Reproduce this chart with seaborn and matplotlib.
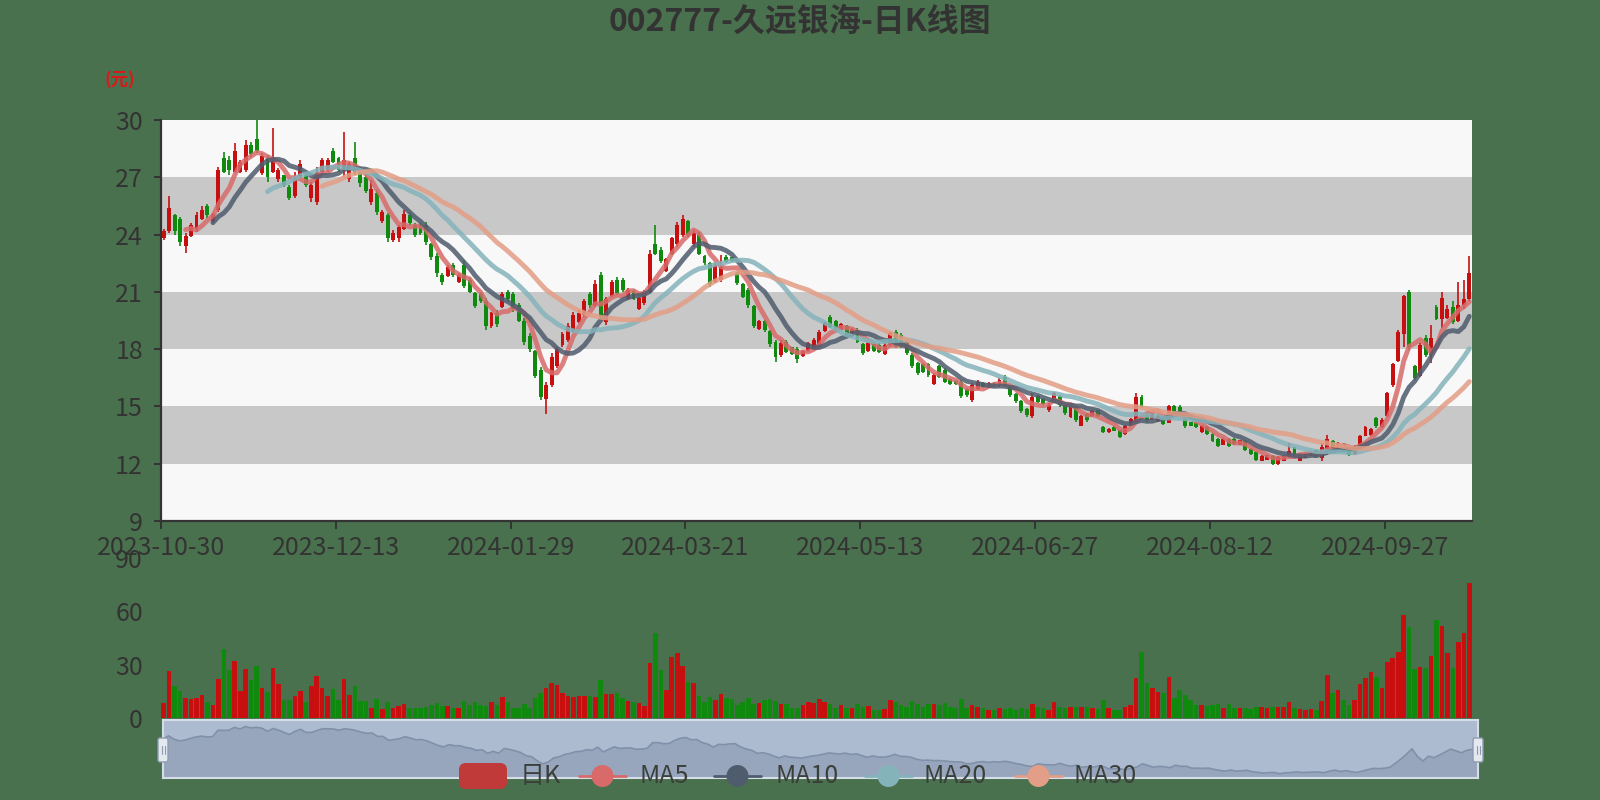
import numpy as np
import pandas as pd
import matplotlib
matplotlib.use("Agg")
import matplotlib.pyplot as plt
import seaborn as sns
from matplotlib.patches import FancyBboxPatch, Circle

# daily K data (240 trading days, 2023-10-30 .. 2024-10)
opens = [
    23.8, 24.2, 25.0, 24.8, 23.4, 23.9, 24.3, 24.8, 25.5, 24.7,
    25.3, 28.0, 27.9, 27.3, 27.3, 27.4, 28.7, 29.0, 27.2, 28.0,
    27.3, 26.9, 27.1, 26.5, 26.0, 27.0, 27.1, 25.9, 25.7, 27.3,
    27.4, 28.4, 28.0, 27.4, 26.9, 28.0, 27.4, 27.0, 25.7, 26.2,
    24.7, 25.0, 23.7, 23.8, 24.3, 25.0, 24.5, 24.4, 24.5, 23.5,
    22.9, 21.9, 21.85, 22.4, 21.5, 22.4, 21.6, 20.95, 20.9, 20.5,
    19.2, 19.9, 20.2, 21.0, 20.9, 20.3, 19.5, 18.7, 17.9, 16.9,
    15.4, 16.1, 17.1, 18.2, 18.5, 19.0, 19.4, 19.8, 20.9, 20.3,
    21.9, 19.4, 20.8, 21.6, 21.6, 20.65, 21.05, 20.1, 20.4, 21.0,
    23.5, 23.2, 22.1, 23.0, 23.5, 24.0, 24.7, 23.5, 24.0, 22.9,
    22.5, 21.5, 21.6, 22.85, 22.8, 22.0, 21.4, 21.1, 20.25, 19.05,
    19.45, 18.95, 18.4, 17.7, 18.4, 18.1, 18.0, 17.65, 17.9, 18.0,
    18.2, 18.95, 19.7, 19.45, 19.02, 19.2, 18.7, 19.0, 18.25, 17.9,
    18.25, 18.2, 17.75, 18.2, 18.9, 18.75, 18.4, 17.7, 17.3, 17.2,
    17.2, 16.2, 17.1, 16.9, 16.45, 16.35, 16.3, 15.9, 15.35, 15.9,
    16.25, 16.05, 16.25, 16.1, 16.55, 16.05, 15.65, 15.3, 14.85, 14.5,
    15.55, 15.4, 14.8, 15.2, 15.55, 15.1, 14.45, 14.95, 14.0, 14.6,
    14.5, 14.8, 13.92, 13.65, 13.9, 13.75, 13.55, 14.0, 14.2, 15.5,
    14.6, 14.32, 14.25, 14.45, 14.15, 15.0, 14.95, 14.65, 14.2, 14.15,
    13.65, 13.9, 13.55, 13.3, 13.0, 13.3, 13.3, 13.0, 13.2, 12.78,
    12.6, 12.15, 12.22, 12.42, 12.0, 12.15, 12.35, 12.85, 12.15, 12.3,
    12.4, 12.7, 12.3, 12.6, 13.2, 12.85, 13.0, 12.85, 12.5, 12.95,
    13.45, 13.5, 14.4, 13.9, 14.5, 16.1, 17.4, 18.8, 21.0, 17.1,
    16.6, 18.6, 17.7, 20.2, 19.6, 19.65, 20.2, 19.5, 20.3, 20.6,
]
closes = [
    24.2, 25.4, 24.2, 23.6, 23.9, 24.5, 25.0, 25.3, 25.0, 25.1,
    27.4, 27.3, 27.4, 28.4, 27.8, 28.7, 28.2, 28.4, 28.1, 27.0,
    28.0, 27.4, 26.6, 25.9, 27.0, 27.7, 26.6, 26.6, 27.3, 27.9,
    27.9, 27.8, 27.4, 27.9, 27.7, 27.3, 26.7, 26.3, 26.4, 25.2,
    25.2, 23.8, 24.1, 24.4, 25.1, 24.6, 24.0, 24.1, 23.6, 22.8,
    22.0, 21.5, 22.3, 21.9, 21.9, 21.3, 21.0, 20.25, 20.5, 19.2,
    19.9, 19.3, 20.9, 20.6, 20.1, 19.5, 18.4, 18.0, 16.6, 15.5,
    16.1, 17.6, 18.0, 18.8, 19.2, 19.8, 19.9, 20.5, 20.3, 21.4,
    19.7, 20.6, 21.5, 20.95, 21.1, 21.1, 20.65, 20.7, 21.0, 23.0,
    23.0, 22.6, 22.7, 23.8, 24.5, 24.8, 24.0, 24.1, 23.0, 22.5,
    21.4, 22.4, 22.3, 22.55, 22.6, 21.45, 20.75, 20.3, 19.2, 19.45,
    19.0, 18.25, 17.6, 18.3, 17.85, 17.75, 17.5, 17.9, 18.3, 18.5,
    18.9, 19.35, 19.15, 19.0, 19.3, 18.8, 19.05, 18.4, 17.8, 18.3,
    17.9, 17.85, 18.2, 18.85, 18.15, 18.1, 17.8, 17.1, 16.75, 16.8,
    16.65, 16.65, 16.55, 16.3, 16.2, 16.15, 15.55, 15.6, 16.1, 16.3,
    16.0, 16.25, 16.1, 16.4, 16.1, 15.6, 15.3, 14.75, 14.55, 15.5,
    15.25, 15.15, 15.1, 15.7, 15.05, 14.65, 15.0, 14.3, 14.5, 14.3,
    14.75, 14.5, 13.65, 13.82, 13.72, 13.4, 14.0, 14.35, 15.5, 14.95,
    14.3, 14.6, 14.5, 14.1, 15.0, 14.6, 14.65, 13.95, 13.98, 13.9,
    14.0, 13.55, 13.2, 12.95, 13.3, 12.95, 13.02, 13.22, 12.7, 12.5,
    12.2, 12.42, 12.44, 12.0, 12.35, 12.42, 12.65, 12.45, 12.5, 12.52,
    12.62, 12.35, 12.9, 13.3, 12.8, 13.1, 12.7, 12.45, 12.95, 13.45,
    13.9, 13.8, 13.95, 14.3, 15.7, 17.2, 18.9, 20.8, 18.1, 16.5,
    18.2, 17.7, 18.6, 19.6, 20.7, 20.1, 19.4, 20.3, 20.6, 22.0,
]
highs = [
    24.3, 26.0, 25.1, 24.9, 24.1, 24.6, 25.2, 25.5, 25.6, 25.15,
    27.56, 28.3, 28.1, 28.8, 27.9, 28.95, 28.87, 30.0, 28.25, 28.17,
    29.56, 27.47, 27.12, 26.6, 27.29, 27.91, 27.12, 26.77, 27.56, 27.99,
    28.0, 28.52, 28.08, 29.39, 27.82, 28.87, 27.56, 27.21, 26.86, 26.34,
    25.29, 25.11, 24.24, 24.5, 25.29, 25.2, 24.59, 24.6, 24.68, 23.54,
    23.02, 21.97, 22.41, 22.5, 21.97, 22.67, 21.71, 21.01, 21.0, 20.66,
    19.97, 20.05, 21.01, 21.1, 21.01, 20.4, 19.62, 18.83, 17.96, 17.09,
    16.3, 17.8, 18.13, 18.92, 19.35, 19.97, 20.05, 20.6, 21.01, 21.62,
    22.06, 20.75, 21.62, 21.8, 21.71, 21.19, 21.1, 20.75, 21.1, 23.19,
    24.5, 23.37, 22.76, 23.89, 24.68, 25.02, 24.76, 24.24, 24.15, 22.93,
    22.58, 22.5, 22.93, 22.93, 22.84, 22.06, 21.45, 21.19, 20.31, 19.53,
    19.53, 19.0, 18.48, 18.48, 18.48, 18.13, 18.13, 17.96, 18.39, 18.57,
    19.0, 19.44, 19.79, 19.53, 19.35, 19.27, 19.09, 19.09, 18.3, 18.39,
    18.3, 18.3, 18.3, 18.92, 19.0, 18.83, 18.48, 17.78, 17.35, 17.26,
    17.26, 16.73, 17.17, 17.0, 16.47, 16.38, 16.38, 15.95, 16.21, 16.38,
    16.3, 16.3, 16.3, 16.47, 16.65, 16.12, 15.69, 15.34, 14.9, 15.69,
    15.6, 15.43, 15.17, 15.78, 15.6, 15.17, 15.08, 14.99, 14.56, 14.64,
    14.82, 14.82, 13.95, 13.86, 13.95, 13.77, 14.04, 14.38, 15.69, 15.6,
    14.64, 14.64, 14.56, 14.47, 15.08, 15.08, 15.08, 14.73, 14.21, 14.21,
    14.04, 13.95, 13.6, 13.34, 13.34, 13.34, 13.34, 13.25, 13.25, 12.81,
    12.64, 12.46, 12.46, 12.46, 12.38, 12.46, 13.07, 12.9, 12.55, 12.55,
    12.64, 12.73, 13.07, 13.51, 13.25, 13.16, 13.07, 12.9, 12.99, 13.51,
    13.95, 13.86, 14.47, 14.38, 15.78, 17.26, 19.0, 20.84, 21.1, 17.17,
    18.3, 18.74, 19.27, 20.32, 21.0, 20.3, 20.5, 21.5, 21.6, 22.9,
]
lows = [
    23.7, 24.1, 24.0, 23.4, 23.05, 23.85, 24.15, 24.75, 24.85, 24.6,
    25.2, 27.2, 27.1, 27.2, 27.2, 27.3, 28.08, 28.25, 27.1, 26.77,
    27.2, 26.77, 26.51, 25.8, 25.9, 26.95, 26.51, 25.72, 25.55, 27.21,
    27.3, 27.73, 27.29, 27.03, 26.77, 27.12, 26.51, 26.16, 25.55, 25.03,
    24.59, 23.63, 23.63, 23.63, 24.24, 24.5, 23.89, 24.0, 23.46, 22.67,
    21.8, 21.36, 21.8, 21.8, 21.45, 21.19, 20.92, 20.14, 20.4, 19.0,
    19.09, 19.18, 20.14, 20.49, 19.97, 19.44, 18.22, 17.87, 16.47, 15.34,
    14.6, 16.04, 17.0, 18.13, 18.39, 18.92, 19.35, 19.7, 20.14, 20.23,
    19.53, 19.27, 20.75, 20.84, 21.0, 20.57, 20.57, 20.05, 20.31, 20.95,
    22.93, 22.5, 22.06, 22.93, 23.37, 23.89, 23.89, 23.37, 22.93, 22.41,
    21.27, 21.45, 21.53, 22.5, 22.58, 21.36, 20.66, 20.14, 19.09, 19.0,
    18.92, 18.13, 17.35, 17.61, 17.78, 17.69, 17.26, 17.61, 17.87, 17.96,
    18.13, 18.92, 19.09, 18.92, 19.0, 18.74, 18.65, 18.3, 17.69, 17.87,
    17.87, 17.78, 17.69, 18.13, 18.04, 18.04, 17.69, 17.0, 16.65, 16.73,
    16.56, 16.12, 16.47, 16.21, 16.12, 16.12, 15.43, 15.51, 15.25, 15.86,
    15.95, 16.04, 16.04, 16.04, 16.04, 15.51, 15.16, 14.64, 14.47, 14.38,
    15.17, 15.08, 14.73, 15.17, 14.99, 14.56, 14.38, 14.21, 13.95, 14.21,
    14.47, 14.47, 13.6, 13.6, 13.69, 13.34, 13.51, 13.95, 14.12, 14.9,
    14.21, 14.3, 14.21, 14.04, 14.12, 14.56, 14.56, 13.86, 13.95, 13.86,
    13.6, 13.51, 13.16, 12.9, 12.99, 12.9, 12.99, 12.99, 12.64, 12.46,
    12.12, 12.12, 12.2, 11.94, 11.94, 12.12, 12.29, 12.38, 12.12, 12.29,
    12.38, 12.29, 12.12, 12.46, 12.73, 12.81, 12.64, 12.38, 12.46, 12.9,
    13.43, 13.43, 13.86, 13.86, 14.47, 16.04, 17.35, 18.13, 17.96, 16.39,
    16.56, 17.61, 17.26, 19.53, 19.1, 19.6, 19.3, 19.4, 20.1, 20.5,
]
volumes = [
    8.6, 26.5, 18, 15.4, 11, 10.7, 11, 13, 9, 7.3,
    22, 38.6, 27, 32, 15.4, 27.4, 21.4, 29.3, 16.7, 14.8,
    28.3, 19, 10, 10, 12.4, 15.4, 9, 18, 23.6, 16.7,
    12.4, 16.3, 10, 22, 13, 18, 9.6, 9.6, 5.8, 10.5,
    4.9, 9, 5.4, 6.8, 7.7, 5.8, 5.8, 5.4, 6.4, 7.3,
    8.6, 6.8, 6.8, 5.4, 5.4, 9.6, 7.3, 9, 7.3, 6.8,
    9, 7.3, 11.6, 9, 5.4, 5.4, 7.9, 5.4, 11, 13.9,
    16.7, 19.5, 18.6, 14.3, 12.4, 12, 12.4, 12.4, 12.4, 12.0,
    21.4, 13.3, 13.3, 13.9, 11, 9.6, 9, 8.6, 6.8, 31,
    48, 27, 16, 34.5, 36.8, 29.5, 20.4, 19.5, 12.4, 9,
    12, 10, 13.5, 11, 10.7, 7.3, 9, 11, 7.7, 8.6,
    10, 10.5, 9.6, 7.7, 7.7, 5.4, 5.4, 7.3, 9.2, 8.6,
    10.7, 9.2, 7.9, 5.4, 7.3, 5.4, 5.4, 7.9, 6.4, 6.8,
    4.5, 4.5, 4.9, 10.1, 9.2, 7.3, 6.0, 9.6, 7.9, 6.0,
    7.9, 7.9, 7.3, 8.3, 6.0, 5.4, 10.7, 5.4, 7.3, 6.0,
    5.4, 4.5, 4.5, 5.4, 4.9, 5.4, 4.5, 5.4, 4.9, 7.9,
    6.4, 5.4, 4.5, 9.2, 6.0, 5.4, 6.4, 6.0, 6.4, 6.4,
    5.4, 4.9, 10.1, 5.4, 4.5, 4.5, 6.4, 7.3, 22.3, 37,
    19.9, 16.7, 14.8, 14.3, 23.3, 11.4, 15.8, 12.9, 10.1, 7.3,
    7.3, 6.8, 7.3, 7.7, 5.4, 7.9, 5.4, 5.4, 5.4, 4.9,
    6.0, 6.0, 5.4, 6.0, 6.0, 6.4, 9.2, 5.4, 4.9, 4.5,
    4.9, 4.5, 9.6, 24.2, 14.3, 15.8, 10.1, 7.3, 10.1, 19.0,
    22.3, 26.1, 23.3, 16.7, 31.7, 33.6, 37.3, 58, 51, 27.4,
    28.9, 28.3, 34.9, 55, 52, 36.8, 28, 43, 48, 76,
]
tick_pos = [0, 32, 64, 96, 128, 160, 192, 224]
tick_labels = ["2023-10-30", "2023-12-13", "2024-01-29", "2024-03-21",
               "2024-05-13", "2024-06-27", "2024-08-12", "2024-09-27"]
ma_windows = [5, 10, 20, 30]
ma_colors = ["#d86a6a", "#4f5c6e", "#84b3ba", "#e29e86"]

sns.set_theme(style="white")
plt.rcParams['font.family'] = ['Noto Sans CJK SC', 'DejaVu Sans']

BG = "#4a714e"
UP = "#c80f0f"
DOWN = "#0f8a0f"
TXT = "#333333"

df = pd.DataFrame({"idx": np.arange(len(closes)), "open": opens, "close": closes,
                   "high": highs, "low": lows, "vol": volumes})
for n in ma_windows:
    df[f"MA{n}"] = df["close"].rolling(n).mean()
df["up"] = df["close"] >= df["open"]
colors = np.where(df["up"], UP, DOWN)

W, H = 1600, 800
fig = plt.figure(figsize=(16, 8), dpi=100, facecolor=BG)
L, R = 161, 1472
ax = fig.add_axes([L / W, 1 - 521 / H, (R - L) / W, (521 - 120) / H])
axv = fig.add_axes([L / W, 1 - 718 / H, (R - L) / W, 160 / H])
axz = fig.add_axes([163 / W, 1 - 778 / H, (1478 - 163) / W, 58 / H])

# --- price panel ---
ax.set_facecolor("none")
for k, lo in enumerate(range(9, 30, 3)):
    ax.axhspan(lo, lo + 3, color="#f8f8f8" if k % 2 == 0 else "#c8c8c8", lw=0, zorder=0)

ax.vlines(df["idx"], df["low"], df["high"], colors=colors, lw=1.2, zorder=2)
body = (df["close"] - df["open"]).abs().clip(lower=0.05)
ax.bar(df["idx"], body, bottom=df[["open", "close"]].min(axis=1), width=0.72,
       color=colors, lw=0, zorder=2)

for n, c in zip(ma_windows, ma_colors):
    sns.lineplot(data=df, x="idx", y=f"MA{n}", ax=ax, color=c, lw=3.5,
                 alpha=0.85, estimator=None, zorder=3)

ax.set_xlim(-0.5, len(closes) - 0.5)
ax.set_ylim(9, 30)
ax.set_yticks(range(9, 31, 3))
ax.set_xticks([p - 0.5 for p in tick_pos])
ax.set_xticklabels(tick_labels)
ax.set_xlabel("")
ax.set_ylabel("")
for s in ["top", "right"]:
    ax.spines[s].set_visible(False)
for s in ["left", "bottom"]:
    ax.spines[s].set_color(TXT)
    ax.spines[s].set_linewidth(1.6)
ax.tick_params(axis="y", length=5, width=1.4, color=TXT, pad=8, labelsize=18, labelcolor=TXT, left=True)
ax.tick_params(axis="x", length=6, width=1.4, color=TXT, pad=4, labelsize=18, labelcolor=TXT, bottom=True)
for t in ax.get_xticklabels() + ax.get_yticklabels():
    t.set_fontweight("medium")

# --- volume panel ---
axv.set_facecolor("none")
axv.bar(df["idx"], df["vol"], width=0.84, color=colors, lw=0)
axv.set_xlim(-0.5, len(closes) - 0.5)
axv.set_ylim(0, 90)
axv.set_yticks([0, 30, 60, 90])
axv.set_xticks([])
for s in axv.spines.values():
    s.set_visible(False)
axv.tick_params(axis="y", length=0, pad=13, labelsize=18, labelcolor=TXT)
for t in axv.get_yticklabels():
    t.set_fontweight("medium")

# --- data zoom slider ---
axz.set_facecolor("#adbbd0")
axz.fill_between(df["idx"], df["close"], 0, color="#97a6bd", lw=0)
sns.lineplot(data=df, x="idx", y="close", ax=axz, color="#8090a8", lw=1.2, estimator=None)
axz.set_xlim(0, len(closes) - 1)
axz.set_ylim(10.5, 31)
axz.set_xticks([])
axz.set_yticks([])
axz.set_xlabel("")
axz.set_ylabel("")
for s in axz.spines.values():
    s.set_color("#d5dde8")
    s.set_linewidth(1.5)

# --- overlay: title, unit, handles, legend ---
ov = fig.add_axes([0, 0, 1, 1], zorder=10)
ov.set_xlim(0, W)
ov.set_ylim(H, 0)
ov.axis("off")
ov.patch.set_alpha(0)

ov.text(800, 22, "002777-久远银海-日K线图", ha="center", va="center",
        fontsize=23, fontweight="heavy", color=TXT)
ov.text(120, 80, "(元)", ha="center", va="center", fontsize=12.5,
        fontweight="bold", color="#d81a1a")

for hx in [163, 1478]:
    ov.add_patch(FancyBboxPatch((hx - 5, 738), 10, 24, boxstyle="round,pad=0,rounding_size=2",
                                fc="#e4e9f0", ec="#8d9bb0", lw=1))
    ov.plot([hx - 1.5, hx - 1.5], [746, 754], color="#8d9bb0", lw=0.8)
    ov.plot([hx + 1.5, hx + 1.5], [746, 754], color="#8d9bb0", lw=0.8)

ly = 776
ov.add_patch(FancyBboxPatch((459, ly - 13), 48, 26, boxstyle="round,pad=0,rounding_size=7",
                            fc="#c03a3a", ec="none"))
ov.text(520, ly, "日K", ha="left", va="center", fontsize=18, color="#3a3f3a")
legend_items = [("MA5", 579, 640), ("MA10", 714, 775), ("MA20", 865, 923), ("MA30", 1015, 1073)]
for (name, x0, tx), c in zip(legend_items, ma_colors):
    ov.plot([x0, x0 + 47], [ly, ly], color=c, lw=2)
    ov.add_patch(Circle((x0 + 23.5, ly), 11, fc=c, ec="none"))
    ov.text(tx, ly, name, ha="left", va="center", fontsize=18, color="#3a3f3a")

fig.savefig("out.png", dpi=100, facecolor=BG)
